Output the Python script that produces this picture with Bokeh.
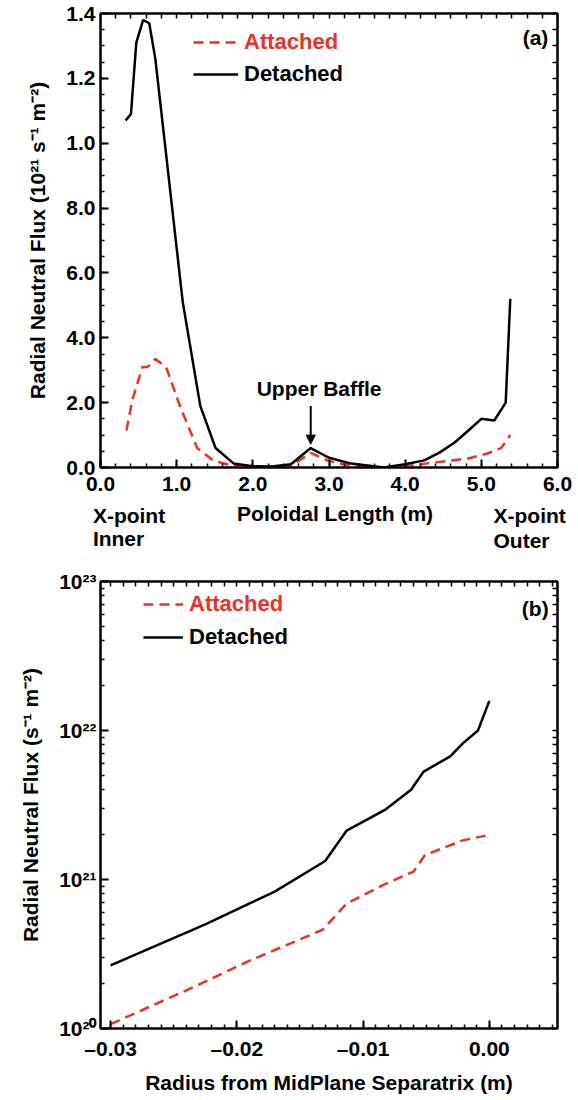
from bokeh.plotting import figure
from bokeh.layouts import column
from bokeh.models import (Range1d, LinearAxis, LogAxis, FixedTicker, Label,
                          Arrow, NormalHead, Legend, LegendItem)
from bokeh.core.properties import value
from bokeh.embed import file_html
from bokeh.resources import INLINE

FONT = "Liberation Sans"
RED = "#ee3124"

# ---------------- Panel (a) data ----------------
a_det_x = [0.33, 0.40, 0.47, 0.56, 0.64, 0.72, 1.08, 1.31, 1.51, 1.75, 2.00, 2.25,
           2.50, 2.76, 3.00, 3.29, 3.72, 4.00, 4.25, 4.45, 4.65, 4.83, 5.00, 5.17,
           5.32, 5.38]
a_det_y = [1.07, 1.09, 1.31, 1.38, 1.37, 1.26, 0.51, 0.19, 0.06, 0.012, 0.004, 0.003,
           0.010, 0.060, 0.030, 0.012, 0.0, 0.010, 0.022, 0.046, 0.077, 0.114, 0.150,
           0.145, 0.200, 0.520]
a_att_x = [0.34, 0.42, 0.55, 0.62, 0.72, 0.86, 1.05, 1.27, 1.49, 1.75, 2.00, 2.25,
           2.50, 2.76, 3.00, 3.29, 3.72, 4.00, 4.20, 4.47, 4.83, 5.09, 5.26, 5.38]
a_att_y = [0.114, 0.21, 0.31, 0.31, 0.335, 0.31, 0.185, 0.06, 0.02, 0.005, 0.002, 0.002,
           0.005, 0.045, 0.020, 0.005, 0.0, 0.003, 0.010, 0.018, 0.028, 0.044, 0.060, 0.100]
a_xticks = [0, 1, 2, 3, 4, 5, 6]
a_xtick_labels = ["0.0", "1.0", "2.0", "3.0", "4.0", "5.0", "6.0"]
a_yticks = [0.0, 0.2, 0.4, 0.6, 0.8, 1.0, 1.2, 1.4]
a_ytick_labels = ["0.0", "2.0", "4.0", "6.0", "8.0", "1.0", "1.2", "1.4"]
a_xlabel = "Poloidal Length (m)"
a_ends = ["X-point", "Inner", "X-point", "Outer"]

# ---------------- Panel (b) data ----------------
b_det_x = [-0.030, -0.0225, -0.017, -0.013, -0.0113, -0.0082, -0.0062, -0.0052,
           -0.0031, -0.0021, -0.0009, 0.0]
b_det_y = [2.65e20, 5.0e20, 8.3e20, 1.33e21, 2.13e21, 2.96e21, 4.0e21, 5.3e21,
           6.7e21, 8.2e21, 1.0e22, 1.58e22]
b_att_x = [-0.030, -0.0234, -0.0192, -0.0132, -0.0113, -0.0084, -0.0060, -0.0051,
           -0.0021, -0.0003]
b_att_y = [1.07e20, 1.9e20, 2.8e20, 4.6e20, 6.9e20, 9.2e20, 1.13e21, 1.46e21,
           1.83e21, 1.97e21]
b_xticks = [-0.03, -0.02, -0.01, 0.0]
b_xtick_labels = ["\u20130.03", "\u20130.02", "\u20130.01", "0.00"]
b_yticks = [1e20, 1e21, 1e22, 1e23]
b_ytick_labels = ["10\u00b2\u2070", "10\u00b2\u00b9", "10\u00b2\u00b2", "10\u00b2\u00b3"]

FS = "21px"
W = 572
LEFT = 100
RIGHT = 15


def style_axis(ax):
    ax.axis_line_width = 2
    ax.axis_line_color = "black"
    ax.major_tick_in = 8
    ax.major_tick_out = 0
    ax.minor_tick_in = 4
    ax.minor_tick_out = 0
    ax.major_tick_line_width = 2
    ax.minor_tick_line_width = 1.5
    ax.major_label_text_font = FONT
    ax.major_label_text_font_style = "bold"
    ax.major_label_text_color = "black"
    ax.major_label_text_font_size = FS
    ax.axis_label_text_font = FONT
    ax.axis_label_text_font_style = "bold"
    ax.axis_label_text_color = "black"
    ax.axis_label_text_font_size = FS


def mirror_axis(cls, major, minor):
    # tick marks only (no labels)
    ax = cls(ticker=FixedTicker(ticks=[], minor_ticks=list(major) + list(minor)))
    ax.axis_line_width = 2
    ax.axis_line_color = "black"
    ax.minor_tick_in = 5
    ax.minor_tick_out = 0
    ax.minor_tick_line_width = 1.5
    ax.major_tick_in = 0
    ax.major_tick_out = 0
    ax.major_label_standoff = 0
    return ax


def make_legend(p, renderer, text, color, loc, glyph_w):
    lg = Legend(items=[LegendItem(label=text, renderers=[renderer])],
                location=loc, orientation="vertical",
                label_text_font=FONT, label_text_font_style="bold",
                label_text_font_size="22px", label_text_color=color,
                glyph_width=glyph_w, glyph_height=20, label_height=20,
                label_standoff=6, padding=0, margin=0, spacing=0,
                border_line_color=None, background_fill_alpha=0)
    p.add_layout(lg)


def txt(**kw):
    return Label(text_font=FONT, text_font_style="bold", text_font_size=FS,
                 text_color="black", text_baseline="middle", **kw)


# ================= Panel (a) =================
pa = figure(width=W, height=502, x_range=Range1d(0, 6), y_range=Range1d(0, 1.4),
            output_backend="svg", toolbar_location=None,
            min_border_left=LEFT, min_border_right=RIGHT, min_border_top=13,
            min_border_bottom=35)
pa.xgrid.visible = False
pa.ygrid.visible = False
pa.outline_line_color = "black"
pa.outline_line_width = 2

a_xminor = [i * 0.2 for i in range(31)]
a_yminor = [i * 0.05 for i in range(29)]
pa.xaxis.ticker = FixedTicker(ticks=a_xticks, minor_ticks=a_xminor)
pa.yaxis.ticker = FixedTicker(ticks=a_yticks, minor_ticks=a_yminor)
pa.xaxis.major_label_overrides = {t: s for t, s in zip(a_xticks, a_xtick_labels)}
pa.yaxis.major_label_overrides = {t: s for t, s in zip(a_yticks, a_ytick_labels)}
pa.yaxis.axis_label = "Radial Neutral Flux (10\u00b2\u00b9 s\u207b\u00b9 m\u207b\u00b2)"
for ax in pa.xaxis + pa.yaxis:
    style_axis(ax)
pa.xaxis.major_label_standoff = 9
pa.yaxis.major_label_standoff = 5
pa.yaxis.axis_label_standoff = 14

pa.add_layout(mirror_axis(LinearAxis, a_xticks, a_xminor), "above")
pa.add_layout(mirror_axis(LinearAxis, a_yticks, a_yminor), "right")

r_att_a = pa.line(a_att_x, a_att_y, line_color=RED, line_width=2.5, line_dash="10 6")
r_det_a = pa.line(a_det_x, a_det_y, line_color="black", line_width=2.5)

make_legend(pa, r_att_a, "Attached", RED, (93, 412), 45)
make_legend(pa, r_det_a, "Detached", "black", (93, 380), 45)

pa.add_layout(txt(x=5.88, y=1.327, text="(a)", text_align="right"))
pa.add_layout(txt(x=2.87, y=0.245, text="Upper Baffle", text_align="center"))
pa.add_layout(Arrow(end=NormalHead(size=9, fill_color="black", line_color="black"),
                    x_start=2.76, y_start=0.19, x_end=2.76, y_end=0.072,
                    line_width=2, line_color="black"))

# ---- strip below panel (a): x-axis title and X-point end labels ----
sx = (W - LEFT - RIGHT) / 6.0  # pixels per metre in panel (a)
ps = figure(width=W, height=56, x_range=Range1d(-LEFT / sx, (W - LEFT) / sx),
            y_range=Range1d(0, 56), output_backend="svg", toolbar_location=None,
            x_axis_location=None, y_axis_location=None,
            min_border_left=0, min_border_right=0, min_border_top=0, min_border_bottom=0)
ps.frame_align = False
ps.xgrid.visible = False
ps.ygrid.visible = False
ps.outline_line_color = None
ps.text(x=[-0.1, -0.1, 5.16, 5.16, 3.08], y=[43, 20, 43, 18, 45],
        text=a_ends + [a_xlabel], text_font=value(FONT), text_font_style="bold",
        text_font_size=FS, text_color="black", text_baseline="middle",
        text_align=["left", "left", "left", "left", "center"])

# ================= Panel (b) =================
pb = figure(width=W, height=538, x_range=Range1d(-0.0308, 0.0054),
            y_range=Range1d(1e20, 1e23), y_axis_type="log",
            output_backend="svg", toolbar_location=None,
            min_border_left=LEFT, min_border_right=RIGHT, min_border_top=23,
            min_border_bottom=62)
pb.xgrid.visible = False
pb.ygrid.visible = False
pb.outline_line_color = "black"
pb.outline_line_width = 2

b_xminor = [-0.030 + i * 0.001 for i in range(36)]
b_yminor = [m * d for d in (1e20, 1e21, 1e22) for m in range(2, 10)]
pb.xaxis.ticker = FixedTicker(ticks=b_xticks, minor_ticks=b_xminor)
pb.yaxis.ticker = FixedTicker(ticks=b_yticks, minor_ticks=b_yminor)
pb.xaxis.major_label_overrides = {t: s for t, s in zip(b_xticks, b_xtick_labels)}
pb.yaxis.major_label_overrides = {t: s for t, s in zip(b_yticks, b_ytick_labels)}
pb.xaxis.axis_label = "Radius from MidPlane Separatrix (m)"
pb.yaxis.axis_label = "Radial Neutral Flux (s\u207b\u00b9 m\u207b\u00b2)"
for ax in pb.xaxis + pb.yaxis:
    style_axis(ax)
pb.xaxis.major_label_standoff = 8
pb.xaxis.axis_label_standoff = 8
pb.yaxis.major_label_standoff = 4
pb.yaxis.axis_label_standoff = 14

pb.add_layout(mirror_axis(LinearAxis, b_xticks, b_xminor), "above")
pb.add_layout(mirror_axis(LogAxis, b_yticks, b_yminor), "right")

r_att_b = pb.line(b_att_x, b_att_y, line_color=RED, line_width=2.5, line_dash="10 6")
r_det_b = pb.line(b_det_x, b_det_y, line_color="black", line_width=2.5)

make_legend(pb, r_att_b, "Attached", RED, (43, 411), 40)
make_legend(pb, r_det_b, "Detached", "black", (43, 378), 40)

pb.add_layout(txt(x=0.0047, y=6.6e22, text="(b)", text_align="right"))

layout = column(pa, ps, pb, spacing=0)
open("out.html", "w").write(file_html(layout, INLINE))
